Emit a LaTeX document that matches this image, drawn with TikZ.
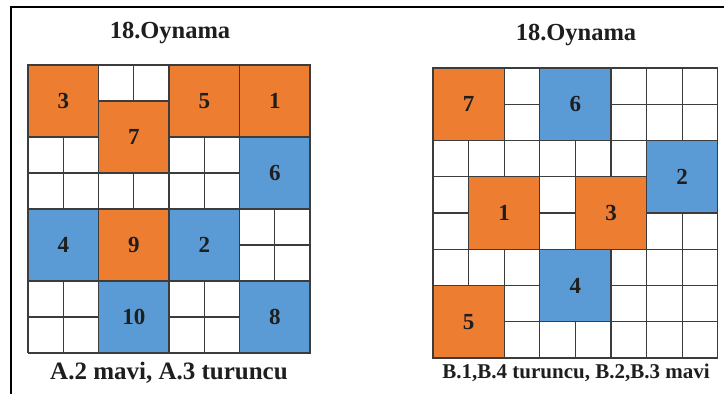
\documentclass[tikz,border=0pt]{standalone}
\usepackage{fontspec}
\setmainfont{Liberation Serif}
\usepackage{xcolor}
\usepackage{tikz}
\usetikzlibrary{positioning}
\definecolor{ink}{HTML}{1E1E1E}
\definecolor{gridgray}{HTML}{3C3C3C}
\definecolor{tileorange}{HTML}{ED7D31}
\definecolor{tileblue}{HTML}{5B9BD5}
\tikzset{
  cell/.style={draw=gridgray,line width=1.2pt},
  tile/.style={draw=gridgray,line width=1.2pt,inner sep=0pt,text=ink,
    font=\bfseries\fontsize{23}{25}\selectfont},
  title/.style={text=ink,font=\bfseries\fontsize{24.5}{27}\selectfont},
  caption/.style={text=ink,font=\bfseries\fontsize{#1}{26}\selectfont},
}

\begin{document}
\begin{tikzpicture}[x=1pt,y=-1pt]
  \useasboundingbox[fill=white] (0,0) rectangle (724,394);
  \draw[line width=2pt] (11,394) -- (11,7) -- (724,7);

  % left board
  \node[title] (titleA) at (170,33) {18.Oynama};
  \begin{scope}[xshift=28pt,yshift=-65pt,x=35.25pt,y=-36pt]
    \foreach \i in {0,...,8}{
      \draw[cell] (\i,0) -- (\i,8);
      \draw[cell] (0,\i) -- (8,\i);
    }
    \foreach \c/\r/\col/\lab in {0/0/tileorange/3,2/1/tileorange/7,4/0/tileorange/5,
        6/0/tileorange/1,6/2/tileblue/6,0/4/tileblue/4,2/4/tileorange/9,
        4/4/tileblue/2,2/6/tileblue/10,6/6/tileblue/8}
      \node[tile,fill=\col,minimum width=70.5pt,minimum height=72pt] (a\lab) at (\c+1,\r+1) {\lab};
  \end{scope}
  \node[caption=25] (capA) at (169,373) {A.2 mavi, A.3 turuncu};

  % right board
  \node[title] (titleB) at (576,35) {18.Oynama};
  \begin{scope}[xshift=433pt,yshift=-68pt,x=35.6pt,y=-36.25pt]
    \foreach \i in {0,...,8}{
      \draw[cell] (\i,0) -- (\i,8);
      \draw[cell] (0,\i) -- (8,\i);
    }
    \foreach \c/\r/\col/\lab in {0/0/tileorange/7,3/0/tileblue/6,6/2/tileblue/2,
        1/3/tileorange/1,4/3/tileorange/3,3/5/tileblue/4,0/6/tileorange/5}
      \node[tile,fill=\col,minimum width=71.2pt,minimum height=72.5pt] (b\lab) at (\c+1,\r+1) {\lab};
  \end{scope}
  \node[caption=21] (capB) at (576,373) {B.1,B.4 turuncu, B.2,B.3 mavi};
\end{tikzpicture}
\end{document}
